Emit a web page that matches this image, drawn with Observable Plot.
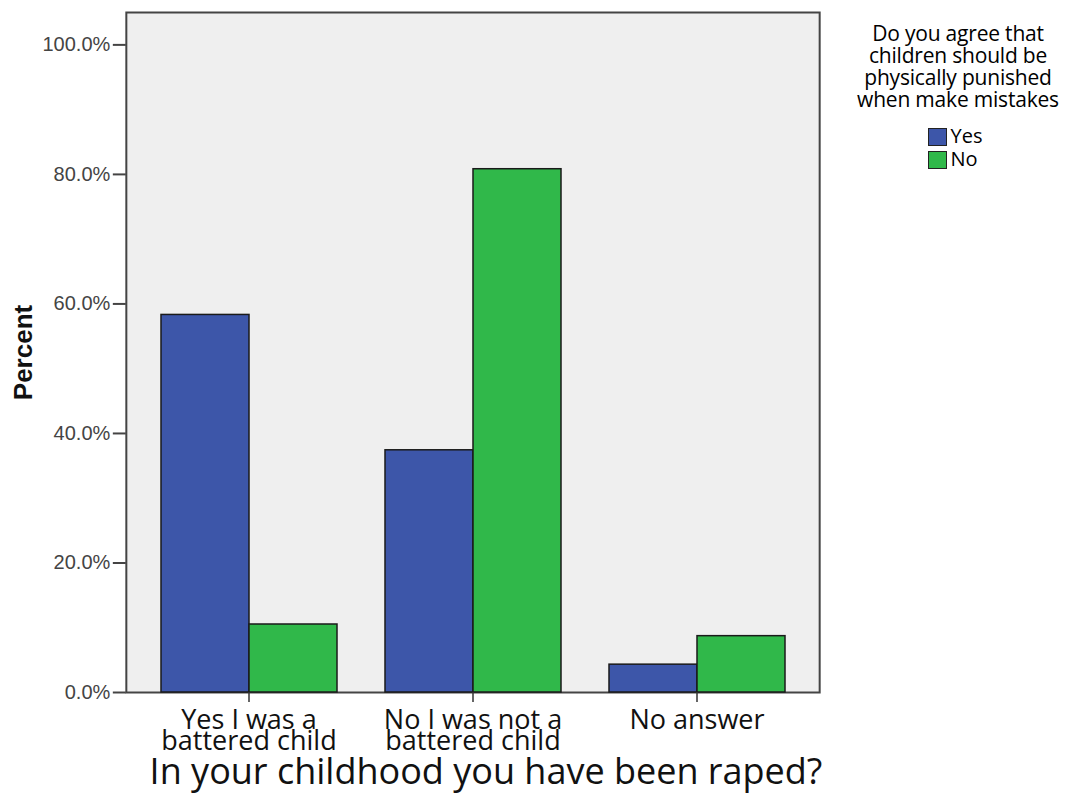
<!DOCTYPE html>
<html><head><meta charset="utf-8">
<script src="https://cdn.jsdelivr.net/npm/d3@7"></script>
<script src="https://cdn.jsdelivr.net/npm/@observablehq/plot@0.6"></script>
<style>
body{margin:0;background:#fff;}
#wrap{position:relative;width:1080px;height:800px;}
#legend{position:absolute;left:832px;top:22px;width:252px;text-align:center;font-family:"Open Sans",sans-serif;color:#000;}
#legend .title{font-size:21px;line-height:22px;white-space:pre-line;letter-spacing:-0.2px;}
#legend .items{display:inline-block;text-align:left;margin-top:14px;font-size:20px;line-height:23px;margin-left:-6px;}
#legend .sw{display:inline-block;width:19px;height:18px;border:1.5px solid #222;vertical-align:-3px;margin-right:4px;box-sizing:border-box;}
</style></head><body>
<div id="wrap"><div id="chart"></div><div id="legend"></div></div>
<script>
const categories = ["Yes I was a\nbattered child", "No I was not a\nbattered child", "No answer"];
const series = ["Yes", "No"];
const yesValues = [58.3, 37.4, 4.3];
const noValues = [10.5, 80.8, 8.7];
const yTicks = [0, 20, 40, 60, 80, 100];
const seriesColors = ["#3d56a9", "#30b84a"];
const xTitle = "In your childhood you have been raped?";
const yTitle = "Percent";
const legendTitle = "Do you agree that\nchildren should be\nphysically punished\nwhen make mistakes";

const data = categories.flatMap((c, i) => [
  {cat: c, series: "Yes", value: yesValues[i]},
  {cat: c, series: "No", value: noValues[i]}
]);

const W = 1080, H = 800, mL = 125, mR = 259, mT = 12, mB = 108;
const padInner = 0.208, padOuter = 0.152;
// distance from the plot's left edge to the first facet band (derived from the band scale)
const fxScale = d3.scaleBand().domain(categories).range([0, W - mL - mR]).paddingInner(padInner).paddingOuter(padOuter);
const off = fxScale(categories[0]);

const chart = Plot.plot({
  width: W, height: H,
  marginLeft: mL, marginRight: mR, marginTop: mT, marginBottom: mB,
  style: {fontFamily: "'Liberation Sans', Arial, sans-serif", background: "transparent", color: "#222"},
  fx: {domain: categories, paddingInner: padInner, paddingOuter: padOuter, label: null, axis: null},
  x: {domain: series, padding: 0, axis: null},
  y: {domain: [0, 105], axis: null},
  color: {domain: series, range: seriesColors},
  marks: [
    Plot.frame({facet: "super", fill: "#efefef", stroke: "#444", strokeWidth: 2, insetLeft: -off, insetRight: -off}),
    Plot.barY(data, {fx: "cat", x: "series", y: "value", fill: "series", stroke: "#1a1a1a", strokeWidth: 1.5}),
    Plot.axisY({ticks: yTicks, tickFormat: d => d.toFixed(1) + "%", tickSize: 13, tickPadding: 3, fontSize: 20, label: null, stroke: "#444", strokeWidth: 2, fill: "#444", dx: -off}),
    Plot.axisFx({anchor: "bottom", tickSize: 10, tickPadding: 12, fontSize: 27, lineHeight: 0.76, label: null, fontFamily: "'Open Sans', sans-serif", fill: "#111", stroke: "#333", strokeWidth: 1.5}),
    Plot.text([yTitle], {facet: "super", frameAnchor: "left", textAnchor: "middle", text: d => d, rotate: -90, dx: -(off + 103), fontSize: 26, fontWeight: "bold", fill: "#111"}),
    Plot.text([xTitle], {facet: "super", frameAnchor: "bottom", text: d => d, dy: 91, dx: 13, fontSize: 36, fontFamily: "'Open Sans', sans-serif", fill: "#111"})
  ]
});
document.getElementById("chart").appendChild(chart);

const legend = document.getElementById("legend");
const t = document.createElement("div");
t.className = "title";
t.textContent = legendTitle;
legend.appendChild(t);
const items = document.createElement("div");
items.className = "items";
series.forEach((s, i) => {
  const row = document.createElement("div");
  const sw = document.createElement("span");
  sw.className = "sw";
  sw.style.background = seriesColors[i];
  row.appendChild(sw);
  row.appendChild(document.createTextNode(s));
  items.appendChild(row);
});
legend.appendChild(items);
</script>
</body></html>
